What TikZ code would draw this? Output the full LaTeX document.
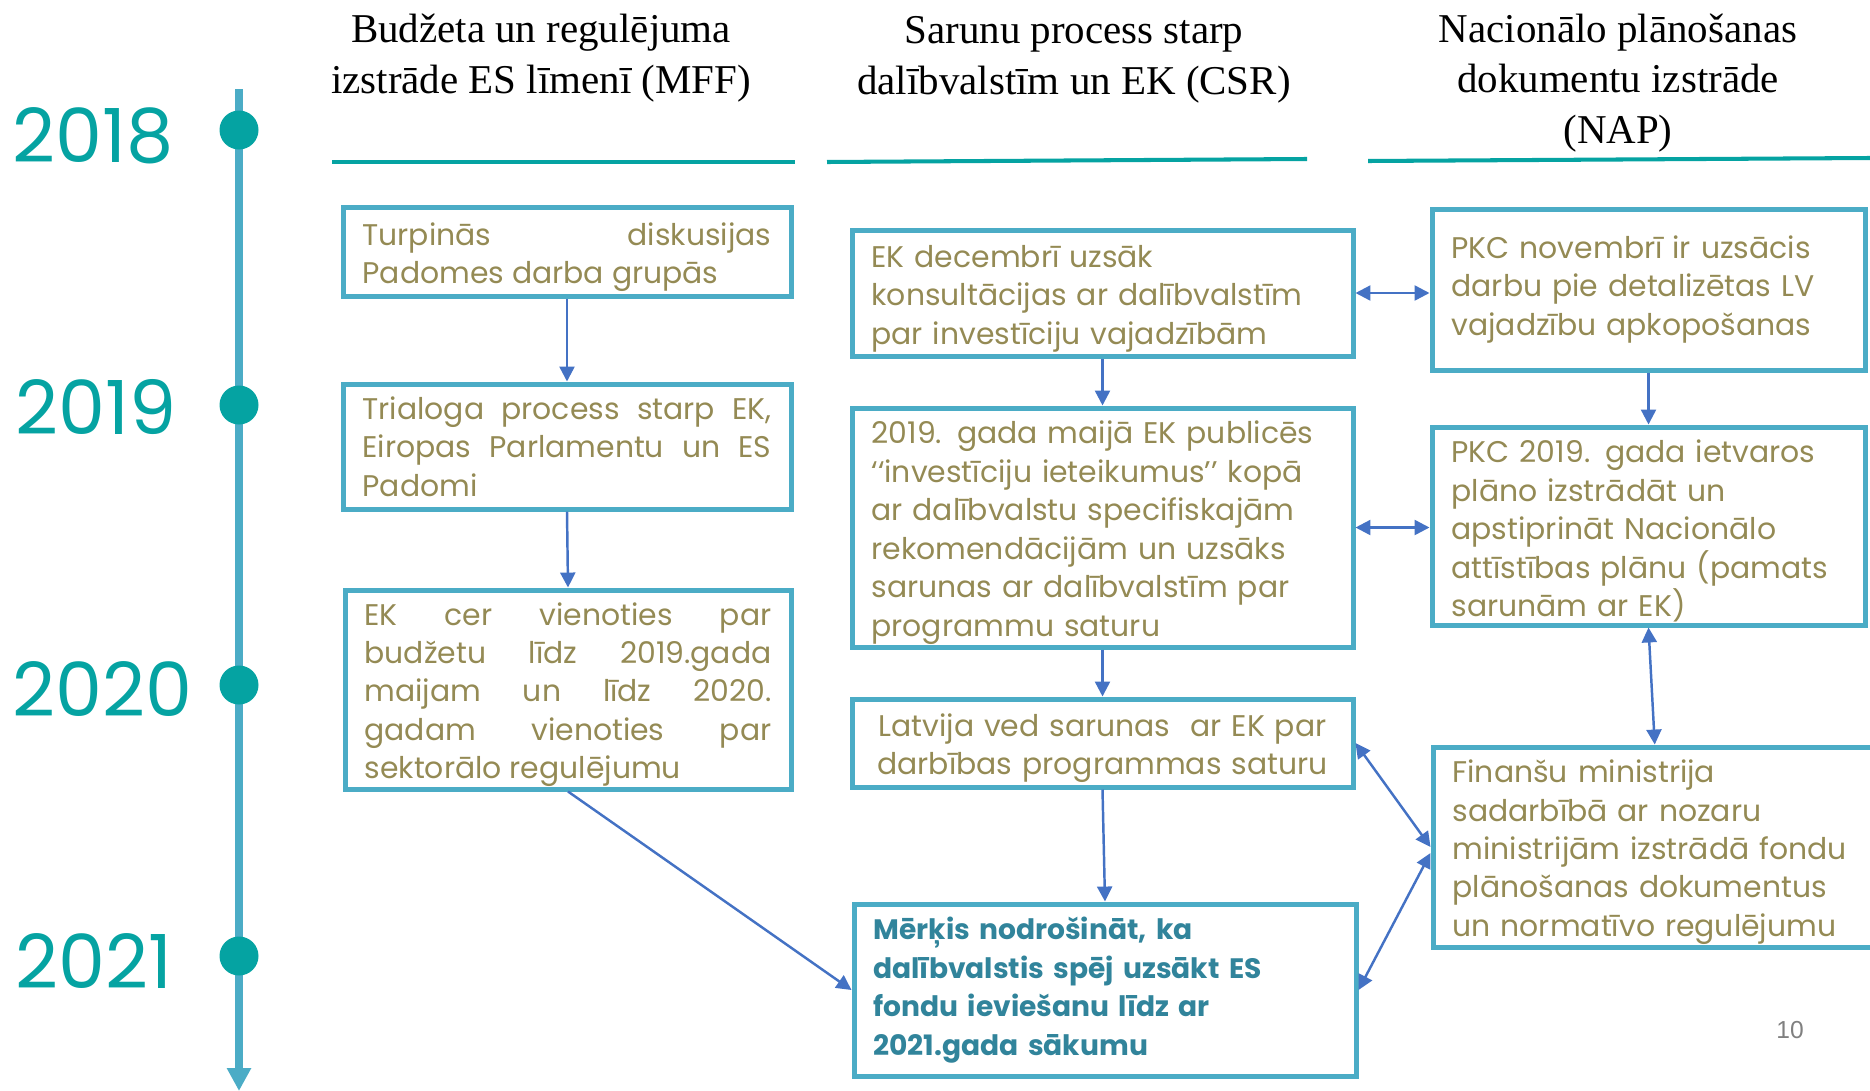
\documentclass[tikz,border=0pt]{standalone}
\usepackage{fontspec}
\setmainfont{Poppins}
\newfontfamily\headfont{Liberation Serif}
\newfontfamily\pagefont{Liberation Sans}
\usetikzlibrary{arrows.meta,positioning,calc}
\definecolor{boxblue}{HTML}{4BACC6}
\definecolor{arrowblue}{HTML}{4472C4}
\definecolor{khaki}{HTML}{948A54}
\definecolor{goalteal}{HTML}{31849B}
\definecolor{yearteal}{HTML}{05A3A2}
\hyphenpenalty=10000
\exhyphenpenalty=10000
\tikzset{
  >=Stealth,
  every node/.append style={font=\fontsize{17}{21.9}\selectfont},
}
\tikzset{
  stagebox/.style={draw=boxblue, line width=2.85pt, anchor=north west, inner xsep=0.39cm, inner ysep=0pt, text=khaki},
  lowered/.style={execute at begin node={\rule{0pt}{18.8pt}}},
  flow/.style={-{Triangle[length=8.5pt,width=8.5pt]}, draw=arrowblue, line width=1.4pt},
  twoway/.style={{Triangle[length=8.5pt,width=8.5pt]}-{Triangle[length=8.5pt,width=8.5pt]}, draw=arrowblue, line width=1.4pt}
}

\begin{document}
\begin{tikzpicture}[
  header/.style={font=\headfont\fontsize{23.3}{28.5}\selectfont, align=center, anchor=base},
  rule/.style={draw=yearteal, line width=2.3pt},
  year/.style={font=\fontsize{42.5}{44}\selectfont, text=yearteal, anchor=base west, inner sep=0pt},
  dot/.style={circle, fill=yearteal, minimum size=0.78cm, inner sep=0pt},
  timeline/.style={draw=boxblue, line width=4.55pt, -{Triangle[length=0.46cm,width=0.46cm]}}
]
\useasboundingbox (0,0) rectangle (37.4,-21.82);

\node[header] (hmff) at (10.82,-1.86) {Budžeta un regulējuma\\izstrāde ES līmenī (MFF)};
\node[header] (hcsr) at (21.48,-1.88) {Sarunu process starp\\dalībvalstīm un EK (CSR)};
\node[header] (hnap) at (32.36,-2.86) {Nacionālo plānošanas\\dokumentu izstrāde\\(NAP)};
\draw[rule] (6.64,-3.24) -- (15.9,-3.24);
\draw[rule] (16.54,-3.24) -- (26.14,-3.18);
\draw[rule] (27.36,-3.22) -- (37.4,-3.16);

\coordinate (tltop) at (4.78,-1.78);
\coordinate (tlend) at (4.78,-21.82);
\draw[timeline] (tltop) -- (tlend);
\node[dot] (d2018) at (4.78,-2.60) {};
\node[dot] (d2019) at (4.78,-8.10) {};
\node[dot] (d2020) at (4.78,-13.70) {};
\node[dot] (d2021) at (4.78,-19.12) {};
\node[year] (y2018) at (0.24,-3.24) {2018};
\node[year] (y2019) at (0.30,-8.68) {2019};
\node[year] (y2020) at (0.24,-14.32) {2020};
\node[year] (y2021) at (0.30,-19.76) {2021};

\node[stagebox, lowered, align=justify, text width=8.18cm, minimum height=1.78cm] (mff1) at (6.81,-4.10)
  {Turpinās diskusijas\linebreak Padomes darba grupās};
\node[stagebox, align=justify, text width=8.18cm, minimum height=2.50cm] (mff2) at (6.81,-7.63)
  {Trialoga process starp EK,\linebreak Eiropas Parlamentu un ES\linebreak Padomi};
\node[stagebox, lowered, align=justify, text width=8.14cm, minimum height=3.98cm] (mff3) at (6.85,-11.75)
  {EK cer vienoties par\linebreak budžetu līdz 2019.gada\linebreak maijam un līdz 2020.\linebreak gadam vienoties par\linebreak sektorālo regulējumu};

\node[stagebox, lowered, align=left, text width=9.24cm, minimum height=2.52cm] (csr1) at (16.99,-4.55)
  {EK decembrī uzsāk\\konsultācijas ar dalībvalstīm\\par investīciju vajadzībām};
\node[stagebox, lowered, align=left, text width=9.24cm, minimum height=4.78cm] (csr2) at (16.99,-8.11)
  {2019. gada maijā EK publicēs\\‘‘investīciju ieteikumus’’ kopā\\ar dalībvalstu specifiskajām\\rekomendācijām un uzsāks\\sarunas ar dalībvalstīm par\\programmu saturu};
\node[stagebox, lowered, align=center, text width=9.24cm, minimum height=1.76cm] (csr3) at (16.99,-13.93)
  {Latvija ved sarunas~ ar EK par\\darbības programmas saturu};
\node[stagebox, align=left, text width=9.26cm, minimum height=3.44cm, text=goalteal, font=\fontsize{16}{21.9}\selectfont\bfseries] (csr4) at (17.03,-18.03)
  {Mērķis nodrošināt, ka\\dalībvalstis spēj uzsākt ES\\fondu ieviešanu līdz ar\\2021.gada sākumu};

\node[stagebox, align=left, text width=7.88cm, minimum height=3.22cm] (nap1) at (28.59,-4.13)
  {PKC novembrī ir uzsācis\\darbu pie detalizētas LV\\vajadzību apkopošanas};
\node[stagebox, lowered, align=left, text width=7.88cm, minimum height=3.96cm] (nap2) at (28.59,-8.49)
  {PKC 2019. gada ietvaros\\plāno izstrādāt un\\apstiprināt Nacionālo\\attīstības plānu (pamats\\sarunām ar EK)};
\node[stagebox, lowered, align=left, text width=8.09cm, minimum height=4.00cm] (nap3) at (28.61,-14.89)
  {Finanšu ministrija\\sadarbībā ar nozaru\\ministrijām izstrādā fondu\\plānošanas dokumentus\\un normatīvo regulējumu};

\draw[flow] (mff1.south) -- (mff2.north);
\draw[flow] (mff2.south) -- (mff3.north);
\draw[flow] (mff3.south) -- (csr4.west);
\draw[flow] (csr1.south) -- (csr2.north);
\draw[flow] (csr2.south) -- (csr3.north);
\draw[flow] (csr3.south) -- (csr4.north);
\draw[flow] (nap1.south) -- (nap2.north);
\draw[twoway] (nap2.south) -- (nap3.north);
\draw[twoway] (csr1.east) -- (csr1.east -| nap1.west);
\draw[twoway] (csr2.east) -- (csr2.east -| nap2.west);
\draw[twoway] (csr3.east) -- (nap3.west);
\draw[twoway] (csr4.east) -- ([yshift=-0.12cm]nap3.west);

\node[font=\pagefont\fontsize{14}{14}\selectfont, text=black!50, anchor=base west, inner sep=0pt] (pageno) at (35.52,-20.76) {10};
\end{tikzpicture}
\end{document}
